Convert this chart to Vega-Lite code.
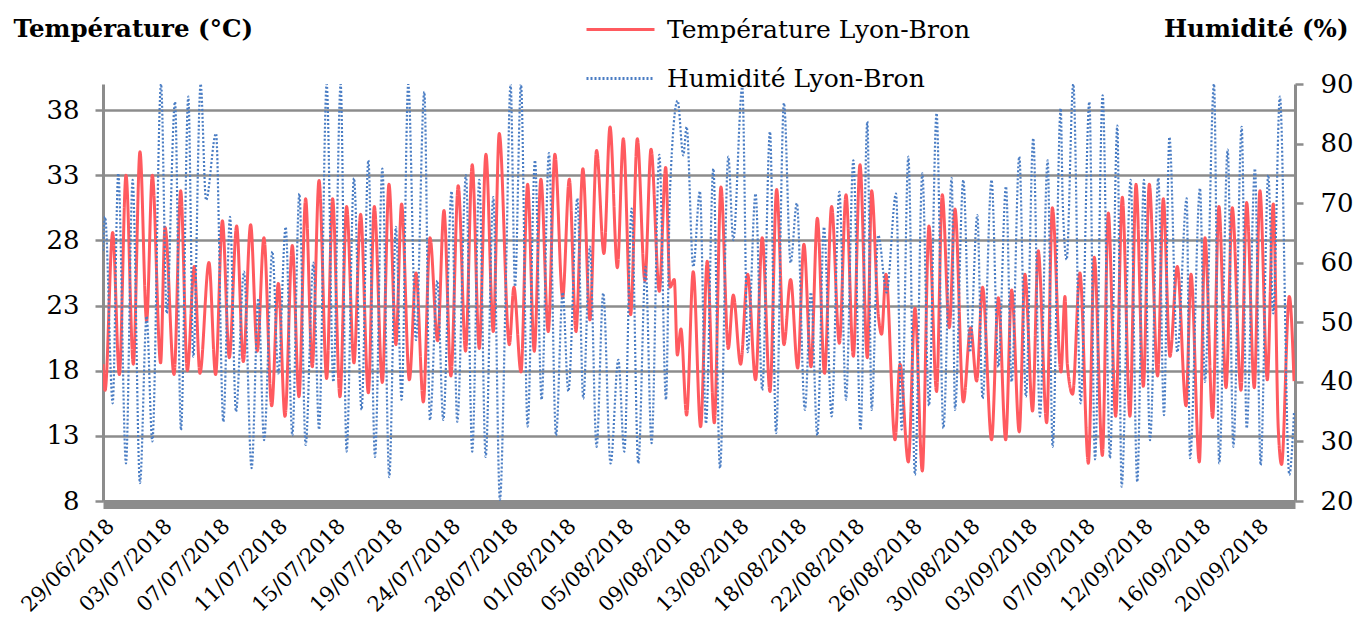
{
 "$schema": "https://vega.github.io/schema/vega-lite/v6.json",
 "width": 1192,
 "height": 417,
 "autosize": {"type": "none"},
 "padding": {"left": 103, "top": 84, "right": 61, "bottom": 120},
 "background": "white",
 "config": {"view": {"stroke": null}, "font": "DejaVu Serif",
  "legend": {"labelFont": "DejaVu Serif", "labelFontSize": 25, "labelColor": "#000", "symbolType": "stroke", "symbolSize": 4624, "symbolStrokeWidth": 3, "rowPadding": 0, "labelOffset": 11, "padding": 0, "labelLimit": 0}},
 "data": {"values": [
{"serie":"Température Lyon-Bron","jour":0,"valeur":18.5},{"serie":"Température Lyon-Bron","jour":0.15,"valeur":16.5},{"serie":"Température Lyon-Bron","jour":0.7,"valeur":28.6},{"serie":"Température Lyon-Bron","jour":1.18,"valeur":17.7},{"serie":"Température Lyon-Bron","jour":1.66,"valeur":33.0},{"serie":"Température Lyon-Bron","jour":2.19,"valeur":18.5},{"serie":"Température Lyon-Bron","jour":2.67,"valeur":34.8},{"serie":"Température Lyon-Bron","jour":3.15,"valeur":21.8},{"serie":"Température Lyon-Bron","jour":3.56,"valeur":33.0},{"serie":"Température Lyon-Bron","jour":4.16,"valeur":18.6},{"serie":"Température Lyon-Bron","jour":4.48,"valeur":29.0},{"serie":"Température Lyon-Bron","jour":5.13,"valeur":17.7},{"serie":"Température Lyon-Bron","jour":5.61,"valeur":31.8},{"serie":"Température Lyon-Bron","jour":6.09,"valeur":18.0},{"serie":"Température Lyon-Bron","jour":6.59,"valeur":26.0},{"serie":"Température Lyon-Bron","jour":7.0,"valeur":17.8},{"serie":"Température Lyon-Bron","jour":7.65,"valeur":26.3},{"serie":"Température Lyon-Bron","jour":8.13,"valeur":17.7},{"serie":"Température Lyon-Bron","jour":8.62,"valeur":29.5},{"serie":"Température Lyon-Bron","jour":9.12,"valeur":19.0},{"serie":"Température Lyon-Bron","jour":9.65,"valeur":29.1},{"serie":"Température Lyon-Bron","jour":10.13,"valeur":18.7},{"serie":"Température Lyon-Bron","jour":10.66,"valeur":29.2},{"serie":"Température Lyon-Bron","jour":11.14,"valeur":19.5},{"serie":"Température Lyon-Bron","jour":11.62,"valeur":28.2},{"serie":"Température Lyon-Bron","jour":12.18,"valeur":15.3},{"serie":"Température Lyon-Bron","jour":12.66,"valeur":24.7},{"serie":"Température Lyon-Bron","jour":13.14,"valeur":14.5},{"serie":"Température Lyon-Bron","jour":13.67,"valeur":27.6},{"serie":"Température Lyon-Bron","jour":14.15,"valeur":16.0},{"serie":"Température Lyon-Bron","jour":14.63,"valeur":31.2},{"serie":"Température Lyon-Bron","jour":15.11,"valeur":18.3},{"serie":"Température Lyon-Bron","jour":15.6,"valeur":32.6},{"serie":"Température Lyon-Bron","jour":16.15,"valeur":17.4},{"serie":"Température Lyon-Bron","jour":16.58,"valeur":31.2},{"serie":"Température Lyon-Bron","jour":17.11,"valeur":16.0},{"serie":"Température Lyon-Bron","jour":17.59,"valeur":30.6},{"serie":"Température Lyon-Bron","jour":18.12,"valeur":18.6},{"serie":"Température Lyon-Bron","jour":18.6,"valeur":30.0},{"serie":"Température Lyon-Bron","jour":19.16,"valeur":16.3},{"serie":"Température Lyon-Bron","jour":19.59,"valeur":30.6},{"serie":"Température Lyon-Bron","jour":20.17,"valeur":17.1},{"serie":"Température Lyon-Bron","jour":20.65,"valeur":32.3},{"serie":"Température Lyon-Bron","jour":21.15,"valeur":20.0},{"serie":"Température Lyon-Bron","jour":21.56,"valeur":30.8},{"serie":"Température Lyon-Bron","jour":22.12,"valeur":17.3},{"serie":"Température Lyon-Bron","jour":22.6,"valeur":25.5},{"serie":"Température Lyon-Bron","jour":23.13,"valeur":15.6},{"serie":"Température Lyon-Bron","jour":23.61,"valeur":28.2},{"serie":"Température Lyon-Bron","jour":24.16,"valeur":20.3},{"serie":"Température Lyon-Bron","jour":24.62,"valeur":30.3},{"serie":"Température Lyon-Bron","jour":25.12,"valeur":17.6},{"serie":"Température Lyon-Bron","jour":25.65,"valeur":32.2},{"serie":"Température Lyon-Bron","jour":26.18,"valeur":19.5},{"serie":"Température Lyon-Bron","jour":26.66,"valeur":33.8},{"serie":"Température Lyon-Bron","jour":27.17,"valeur":19.7},{"serie":"Température Lyon-Bron","jour":27.65,"valeur":34.6},{"serie":"Température Lyon-Bron","jour":28.18,"valeur":21.0},{"serie":"Température Lyon-Bron","jour":28.61,"valeur":36.2},{"serie":"Température Lyon-Bron","jour":29.34,"valeur":20.0},{"serie":"Température Lyon-Bron","jour":29.67,"valeur":24.4},{"serie":"Température Lyon-Bron","jour":30.18,"valeur":17.9},{"serie":"Température Lyon-Bron","jour":30.66,"valeur":32.3},{"serie":"Température Lyon-Bron","jour":31.14,"valeur":19.5},{"serie":"Température Lyon-Bron","jour":31.62,"valeur":32.7},{"serie":"Température Lyon-Bron","jour":32.15,"valeur":21.0},{"serie":"Température Lyon-Bron","jour":32.63,"valeur":34.6},{"serie":"Température Lyon-Bron","jour":33.19,"valeur":23.6},{"serie":"Température Lyon-Bron","jour":33.67,"valeur":32.7},{"serie":"Température Lyon-Bron","jour":34.15,"valeur":21.0},{"serie":"Température Lyon-Bron","jour":34.65,"valeur":33.5},{"serie":"Température Lyon-Bron","jour":35.16,"valeur":21.9},{"serie":"Température Lyon-Bron","jour":35.64,"valeur":34.9},{"serie":"Température Lyon-Bron","jour":36.17,"valeur":27.0},{"serie":"Température Lyon-Bron","jour":36.61,"valeur":36.7},{"serie":"Température Lyon-Bron","jour":37.14,"valeur":25.9},{"serie":"Température Lyon-Bron","jour":37.57,"valeur":35.8},{"serie":"Température Lyon-Bron","jour":38.1,"valeur":22.3},{"serie":"Température Lyon-Bron","jour":38.58,"valeur":35.8},{"serie":"Température Lyon-Bron","jour":39.13,"valeur":24.9},{"serie":"Température Lyon-Bron","jour":39.57,"valeur":35.0},{"serie":"Température Lyon-Bron","jour":40.17,"valeur":24.1},{"serie":"Température Lyon-Bron","jour":40.63,"valeur":33.6},{"serie":"Température Lyon-Bron","jour":40.94,"valeur":24.4},{"serie":"Température Lyon-Bron","jour":41.25,"valeur":25.0},{"serie":"Température Lyon-Bron","jour":41.47,"valeur":19.2},{"serie":"Température Lyon-Bron","jour":41.73,"valeur":21.2},{"serie":"Température Lyon-Bron","jour":42.14,"valeur":14.6},{"serie":"Température Lyon-Bron","jour":42.62,"valeur":25.6},{"serie":"Température Lyon-Bron","jour":43.15,"valeur":13.7},{"serie":"Température Lyon-Bron","jour":43.63,"valeur":26.4},{"serie":"Température Lyon-Bron","jour":44.14,"valeur":14.0},{"serie":"Température Lyon-Bron","jour":44.62,"valeur":32.1},{"serie":"Température Lyon-Bron","jour":45.15,"valeur":19.7},{"serie":"Température Lyon-Bron","jour":45.51,"valeur":23.8},{"serie":"Température Lyon-Bron","jour":46.04,"valeur":18.5},{"serie":"Température Lyon-Bron","jour":46.55,"valeur":25.4},{"serie":"Température Lyon-Bron","jour":47.12,"valeur":17.3},{"serie":"Température Lyon-Bron","jour":47.6,"valeur":28.2},{"serie":"Température Lyon-Bron","jour":48.16,"valeur":16.4},{"serie":"Température Lyon-Bron","jour":48.64,"valeur":31.9},{"serie":"Température Lyon-Bron","jour":49.17,"valeur":20.0},{"serie":"Température Lyon-Bron","jour":49.65,"valeur":25.0},{"serie":"Température Lyon-Bron","jour":50.16,"valeur":18.2},{"serie":"Température Lyon-Bron","jour":50.61,"valeur":27.7},{"serie":"Température Lyon-Bron","jour":51.12,"valeur":18.3},{"serie":"Température Lyon-Bron","jour":51.58,"valeur":29.7},{"serie":"Température Lyon-Bron","jour":52.1,"valeur":17.8},{"serie":"Température Lyon-Bron","jour":52.61,"valeur":30.6},{"serie":"Température Lyon-Bron","jour":53.17,"valeur":20.1},{"serie":"Température Lyon-Bron","jour":53.65,"valeur":31.5},{"serie":"Température Lyon-Bron","jour":54.18,"valeur":19.1},{"serie":"Température Lyon-Bron","jour":54.66,"valeur":33.8},{"serie":"Température Lyon-Bron","jour":55.19,"valeur":19.0},{"serie":"Température Lyon-Bron","jour":55.5,"valeur":31.8},{"serie":"Température Lyon-Bron","jour":55.98,"valeur":22.3},{"serie":"Température Lyon-Bron","jour":56.22,"valeur":20.8},{"serie":"Température Lyon-Bron","jour":56.53,"valeur":25.4},{"serie":"Température Lyon-Bron","jour":57.19,"valeur":12.7},{"serie":"Température Lyon-Bron","jour":57.55,"valeur":18.5},{"serie":"Température Lyon-Bron","jour":58.15,"valeur":11.0},{"serie":"Température Lyon-Bron","jour":58.63,"valeur":22.8},{"serie":"Température Lyon-Bron","jour":59.16,"valeur":10.3},{"serie":"Température Lyon-Bron","jour":59.64,"valeur":29.1},{"serie":"Température Lyon-Bron","jour":60.19,"valeur":16.4},{"serie":"Température Lyon-Bron","jour":60.6,"valeur":31.5},{"serie":"Température Lyon-Bron","jour":61.11,"valeur":21.3},{"serie":"Température Lyon-Bron","jour":61.52,"valeur":30.4},{"serie":"Température Lyon-Bron","jour":62.12,"valeur":15.6},{"serie":"Température Lyon-Bron","jour":62.65,"valeur":21.3},{"serie":"Température Lyon-Bron","jour":63.08,"valeur":17.2},{"serie":"Température Lyon-Bron","jour":63.51,"valeur":24.4},{"serie":"Température Lyon-Bron","jour":64.16,"valeur":12.7},{"serie":"Température Lyon-Bron","jour":64.65,"valeur":23.6},{"serie":"Température Lyon-Bron","jour":65.18,"valeur":12.7},{"serie":"Température Lyon-Bron","jour":65.61,"valeur":24.2},{"serie":"Température Lyon-Bron","jour":66.16,"valeur":13.3},{"serie":"Température Lyon-Bron","jour":66.57,"valeur":25.4},{"serie":"Température Lyon-Bron","jour":67.12,"valeur":14.9},{"serie":"Température Lyon-Bron","jour":67.53,"valeur":27.2},{"serie":"Température Lyon-Bron","jour":68.14,"valeur":14.0},{"serie":"Température Lyon-Bron","jour":68.55,"valeur":30.5},{"serie":"Température Lyon-Bron","jour":69.17,"valeur":17.9},{"serie":"Température Lyon-Bron","jour":69.46,"valeur":23.7},{"serie":"Température Lyon-Bron","jour":69.63,"valeur":18.5},{"serie":"Température Lyon-Bron","jour":70.01,"valeur":16.2},{"serie":"Température Lyon-Bron","jour":70.54,"valeur":25.5},{"serie":"Température Lyon-Bron","jour":71.15,"valeur":10.9},{"serie":"Température Lyon-Bron","jour":71.58,"valeur":26.7},{"serie":"Température Lyon-Bron","jour":72.16,"valeur":11.5},{"serie":"Température Lyon-Bron","jour":72.59,"valeur":30.1},{"serie":"Température Lyon-Bron","jour":73.12,"valeur":14.5},{"serie":"Température Lyon-Bron","jour":73.6,"valeur":31.3},{"serie":"Température Lyon-Bron","jour":74.15,"valeur":14.5},{"serie":"Température Lyon-Bron","jour":74.59,"valeur":32.3},{"serie":"Température Lyon-Bron","jour":75.12,"valeur":16.8},{"serie":"Température Lyon-Bron","jour":75.55,"valeur":32.3},{"serie":"Température Lyon-Bron","jour":76.15,"valeur":17.6},{"serie":"Température Lyon-Bron","jour":76.56,"valeur":31.2},{"serie":"Température Lyon-Bron","jour":77.04,"valeur":19.1},{"serie":"Température Lyon-Bron","jour":77.57,"valeur":26.0},{"serie":"Température Lyon-Bron","jour":78.2,"valeur":15.3},{"serie":"Température Lyon-Bron","jour":78.56,"valeur":25.4},{"serie":"Température Lyon-Bron","jour":79.16,"valeur":11.0},{"serie":"Température Lyon-Bron","jour":79.57,"valeur":28.2},{"serie":"Température Lyon-Bron","jour":80.12,"valeur":14.4},{"serie":"Température Lyon-Bron","jour":80.58,"valeur":30.6},{"serie":"Température Lyon-Bron","jour":81.09,"valeur":16.7},{"serie":"Température Lyon-Bron","jour":81.54,"valeur":30.5},{"serie":"Température Lyon-Bron","jour":82.17,"valeur":16.5},{"serie":"Température Lyon-Bron","jour":82.58,"valeur":30.9},{"serie":"Température Lyon-Bron","jour":83.13,"valeur":16.7},{"serie":"Température Lyon-Bron","jour":83.54,"valeur":31.8},{"serie":"Température Lyon-Bron","jour":84.07,"valeur":17.3},{"serie":"Température Lyon-Bron","jour":84.5,"valeur":30.8},{"serie":"Température Lyon-Bron","jour":84.86,"valeur":13.6},{"serie":"Température Lyon-Bron","jour":85.1,"valeur":10.8},{"serie":"Température Lyon-Bron","jour":85.66,"valeur":23.7},{"serie":"Température Lyon-Bron","jour":86.0,"valeur":17.2},
{"serie":"Humidité Lyon-Bron","jour":0,"valeur":62},{"serie":"Humidité Lyon-Bron","jour":0.15,"valeur":67.7},{"serie":"Humidité Lyon-Bron","jour":0.7,"valeur":36.4},{"serie":"Humidité Lyon-Bron","jour":1.1,"valeur":75},{"serie":"Humidité Lyon-Bron","jour":1.66,"valeur":26.3},{"serie":"Humidité Lyon-Bron","jour":2.14,"valeur":73.9},{"serie":"Humidité Lyon-Bron","jour":2.67,"valeur":23},{"serie":"Humidité Lyon-Bron","jour":3.15,"valeur":51},{"serie":"Humidité Lyon-Bron","jour":3.56,"valeur":30},{"serie":"Humidité Lyon-Bron","jour":4.19,"valeur":90},{"serie":"Humidité Lyon-Bron","jour":4.6,"valeur":51.5},{"serie":"Humidité Lyon-Bron","jour":5.2,"valeur":87},{"serie":"Humidité Lyon-Bron","jour":5.63,"valeur":31.9},{"serie":"Humidité Lyon-Bron","jour":6.16,"valeur":87.9},{"serie":"Humidité Lyon-Bron","jour":6.52,"valeur":44.2},{"serie":"Humidité Lyon-Bron","jour":7.05,"valeur":90},{"serie":"Humidité Lyon-Bron","jour":7.44,"valeur":70.5},{"serie":"Humidité Lyon-Bron","jour":8.16,"valeur":81.7},{"serie":"Humidité Lyon-Bron","jour":8.69,"valeur":33.3},{"serie":"Humidité Lyon-Bron","jour":9.17,"valeur":67.7},{"serie":"Humidité Lyon-Bron","jour":9.6,"valeur":35},{"serie":"Humidité Lyon-Bron","jour":10.18,"valeur":58.5},{"serie":"Humidité Lyon-Bron","jour":10.73,"valeur":25.5},{"serie":"Humidité Lyon-Bron","jour":11.22,"valeur":54},{"serie":"Humidité Lyon-Bron","jour":11.63,"valeur":30.2},{"serie":"Humidité Lyon-Bron","jour":12.23,"valeur":61.9},{"serie":"Humidité Lyon-Bron","jour":12.66,"valeur":41.4},{"serie":"Humidité Lyon-Bron","jour":13.19,"valeur":66},{"serie":"Humidité Lyon-Bron","jour":13.67,"valeur":31},{"serie":"Humidité Lyon-Bron","jour":14.18,"valeur":71.6},{"serie":"Humidité Lyon-Bron","jour":14.63,"valeur":29.4},{"serie":"Humidité Lyon-Bron","jour":15.19,"valeur":60},{"serie":"Humidité Lyon-Bron","jour":15.6,"valeur":32},{"serie":"Humidité Lyon-Bron","jour":16.15,"valeur":90},{"serie":"Humidité Lyon-Bron","jour":16.63,"valeur":40},{"serie":"Humidité Lyon-Bron","jour":17.16,"valeur":90},{"serie":"Humidité Lyon-Bron","jour":17.59,"valeur":28.3},{"serie":"Humidité Lyon-Bron","jour":18.12,"valeur":74.2},{"serie":"Humidité Lyon-Bron","jour":18.67,"valeur":35.3},{"serie":"Humidité Lyon-Bron","jour":19.16,"valeur":77.2},{"serie":"Humidité Lyon-Bron","jour":19.64,"valeur":27.4},{"serie":"Humidité Lyon-Bron","jour":20.17,"valeur":75.8},{"serie":"Humidité Lyon-Bron","jour":20.67,"valeur":24},{"serie":"Humidité Lyon-Bron","jour":21.15,"valeur":66},{"serie":"Humidité Lyon-Bron","jour":21.56,"valeur":37},{"serie":"Humidité Lyon-Bron","jour":22.04,"valeur":90},{"serie":"Humidité Lyon-Bron","jour":22.6,"valeur":47},{"serie":"Humidité Lyon-Bron","jour":23.2,"valeur":88.7},{"serie":"Humidité Lyon-Bron","jour":23.61,"valeur":33.6},{"serie":"Humidité Lyon-Bron","jour":24.14,"valeur":57},{"serie":"Humidité Lyon-Bron","jour":24.57,"valeur":33.6},{"serie":"Humidité Lyon-Bron","jour":25.17,"valeur":72},{"serie":"Humidité Lyon-Bron","jour":25.58,"valeur":33.3},{"serie":"Humidité Lyon-Bron","jour":26.21,"valeur":74.7},{"serie":"Humidité Lyon-Bron","jour":26.66,"valeur":28.3},{"serie":"Humidité Lyon-Bron","jour":27.17,"valeur":73.9},{"serie":"Humidité Lyon-Bron","jour":27.63,"valeur":27.4},{"serie":"Humidité Lyon-Bron","jour":28.18,"valeur":71},{"serie":"Humidité Lyon-Bron","jour":28.66,"valeur":20.2},{"serie":"Humidité Lyon-Bron","jour":29.1,"valeur":58},{"serie":"Humidité Lyon-Bron","jour":29.43,"valeur":90},{"serie":"Humidité Lyon-Bron","jour":29.75,"valeur":56},{"serie":"Humidité Lyon-Bron","jour":30.18,"valeur":90},{"serie":"Humidité Lyon-Bron","jour":30.66,"valeur":32.5},{"serie":"Humidité Lyon-Bron","jour":31.19,"valeur":77.2},{"serie":"Humidité Lyon-Bron","jour":31.67,"valeur":37},{"serie":"Humidité Lyon-Bron","jour":32.2,"valeur":78.4},{"serie":"Humidité Lyon-Bron","jour":32.71,"valeur":31},{"serie":"Humidité Lyon-Bron","jour":33.19,"valeur":55},{"serie":"Humidité Lyon-Bron","jour":33.6,"valeur":38.4},{"serie":"Humidité Lyon-Bron","jour":34.25,"valeur":70.8},{"serie":"Humidité Lyon-Bron","jour":34.68,"valeur":37.2},{"serie":"Humidité Lyon-Bron","jour":35.16,"valeur":62.7},{"serie":"Humidité Lyon-Bron","jour":35.64,"valeur":29.1},{"serie":"Humidité Lyon-Bron","jour":36.12,"valeur":54.9},{"serie":"Humidité Lyon-Bron","jour":36.65,"valeur":26.3},{"serie":"Humidité Lyon-Bron","jour":37.21,"valeur":43.7},{"serie":"Humidité Lyon-Bron","jour":37.64,"valeur":28.3},{"serie":"Humidité Lyon-Bron","jour":38.17,"valeur":69.1},{"serie":"Humidité Lyon-Bron","jour":38.65,"valeur":26.3},{"serie":"Humidité Lyon-Bron","jour":39.18,"valeur":59.3},{"serie":"Humidité Lyon-Bron","jour":39.61,"valeur":29.7},{"serie":"Humidité Lyon-Bron","jour":40.17,"valeur":78.1},{"serie":"Humidité Lyon-Bron","jour":40.65,"valeur":37},{"serie":"Humidité Lyon-Bron","jour":40.94,"valeur":72},{"serie":"Humidité Lyon-Bron","jour":41.49,"valeur":87.2},{"serie":"Humidité Lyon-Bron","jour":41.9,"valeur":78},{"serie":"Humidité Lyon-Bron","jour":42.14,"valeur":82.8},{"serie":"Humidité Lyon-Bron","jour":42.62,"valeur":59.3},{"serie":"Humidité Lyon-Bron","jour":43.1,"valeur":72},{"serie":"Humidité Lyon-Bron","jour":43.54,"valeur":33},{"serie":"Humidité Lyon-Bron","jour":44.07,"valeur":75.8},{"serie":"Humidité Lyon-Bron","jour":44.55,"valeur":25.5},{"serie":"Humidité Lyon-Bron","jour":45.15,"valeur":77.8},{"serie":"Humidité Lyon-Bron","jour":45.51,"valeur":63.8},{"serie":"Humidité Lyon-Bron","jour":46.16,"valeur":89.5},{"serie":"Humidité Lyon-Bron","jour":46.55,"valeur":45},{"serie":"Humidité Lyon-Bron","jour":47.12,"valeur":71.6},{"serie":"Humidité Lyon-Bron","jour":47.6,"valeur":38.6},{"serie":"Humidité Lyon-Bron","jour":48.16,"valeur":82},{"serie":"Humidité Lyon-Bron","jour":48.6,"valeur":31.4},{"serie":"Humidité Lyon-Bron","jour":49.17,"valeur":86.8},{"serie":"Humidité Lyon-Bron","jour":49.65,"valeur":60},{"serie":"Humidité Lyon-Bron","jour":50.1,"valeur":70},{"serie":"Humidité Lyon-Bron","jour":50.68,"valeur":35.3},{"serie":"Humidité Lyon-Bron","jour":51.12,"valeur":55},{"serie":"Humidité Lyon-Bron","jour":51.58,"valeur":31},{"serie":"Humidité Lyon-Bron","jour":52.06,"valeur":66},{"serie":"Humidité Lyon-Bron","jour":52.61,"valeur":34.2},{"serie":"Humidité Lyon-Bron","jour":53.17,"valeur":71.9},{"serie":"Humidité Lyon-Bron","jour":53.65,"valeur":37},{"serie":"Humidité Lyon-Bron","jour":54.18,"valeur":77.2},{"serie":"Humidité Lyon-Bron","jour":54.7,"valeur":31.9},{"serie":"Humidité Lyon-Bron","jour":55.19,"valeur":83.7},{"serie":"Humidité Lyon-Bron","jour":55.5,"valeur":35.3},{"serie":"Humidité Lyon-Bron","jour":55.98,"valeur":64.6},{"serie":"Humidité Lyon-Bron","jour":56.58,"valeur":55},{"serie":"Humidité Lyon-Bron","jour":57.26,"valeur":71.6},{"serie":"Humidité Lyon-Bron","jour":57.67,"valeur":32},{"serie":"Humidité Lyon-Bron","jour":58.15,"valeur":77.8},{"serie":"Humidité Lyon-Bron","jour":58.63,"valeur":24.4},{"serie":"Humidité Lyon-Bron","jour":59.16,"valeur":75},{"serie":"Humidité Lyon-Bron","jour":59.64,"valeur":36},{"serie":"Humidité Lyon-Bron","jour":60.19,"valeur":85.1},{"serie":"Humidité Lyon-Bron","jour":60.68,"valeur":32.2},{"serie":"Humidité Lyon-Bron","jour":61.28,"valeur":74.2},{"serie":"Humidité Lyon-Bron","jour":61.52,"valeur":35.3},{"serie":"Humidité Lyon-Bron","jour":62.12,"valeur":73.9},{"serie":"Humidité Lyon-Bron","jour":62.6,"valeur":45},{"serie":"Humidité Lyon-Bron","jour":63.13,"valeur":68},{"serie":"Humidité Lyon-Bron","jour":63.51,"valeur":37.2},{"serie":"Humidité Lyon-Bron","jour":64.16,"valeur":73.9},{"serie":"Humidité Lyon-Bron","jour":64.65,"valeur":42.5},{"serie":"Humidité Lyon-Bron","jour":65.2,"valeur":72.8},{"serie":"Humidité Lyon-Bron","jour":65.61,"valeur":40},{"serie":"Humidité Lyon-Bron","jour":66.16,"valeur":77.8},{"serie":"Humidité Lyon-Bron","jour":66.64,"valeur":37.5},{"serie":"Humidité Lyon-Bron","jour":67.17,"valeur":80.9},{"serie":"Humidité Lyon-Bron","jour":67.65,"valeur":34.2},{"serie":"Humidité Lyon-Bron","jour":68.21,"valeur":77.2},{"serie":"Humidité Lyon-Bron","jour":68.57,"valeur":29.1},{"serie":"Humidité Lyon-Bron","jour":69.15,"valeur":85.9},{"serie":"Humidité Lyon-Bron","jour":69.3,"valeur":70},{"serie":"Humidité Lyon-Bron","jour":69.58,"valeur":60.5},{"serie":"Humidité Lyon-Bron","jour":70.06,"valeur":90},{"serie":"Humidité Lyon-Bron","jour":70.59,"valeur":36.4},{"serie":"Humidité Lyon-Bron","jour":71.22,"valeur":87},{"serie":"Humidité Lyon-Bron","jour":71.63,"valeur":27},{"serie":"Humidité Lyon-Bron","jour":72.18,"valeur":88.1},{"serie":"Humidité Lyon-Bron","jour":72.71,"valeur":27.2},{"serie":"Humidité Lyon-Bron","jour":73.24,"valeur":83},{"serie":"Humidité Lyon-Bron","jour":73.55,"valeur":22.4},{"serie":"Humidité Lyon-Bron","jour":74.2,"valeur":73.9},{"serie":"Humidité Lyon-Bron","jour":74.68,"valeur":23.2},{"serie":"Humidité Lyon-Bron","jour":75.16,"valeur":73.9},{"serie":"Humidité Lyon-Bron","jour":75.6,"valeur":30.2},{"serie":"Humidité Lyon-Bron","jour":76.2,"valeur":74.2},{"serie":"Humidité Lyon-Bron","jour":76.61,"valeur":34.4},{"serie":"Humidité Lyon-Bron","jour":77.0,"valeur":81.1},{"serie":"Humidité Lyon-Bron","jour":77.57,"valeur":45},{"serie":"Humidité Lyon-Bron","jour":78.25,"valeur":70.8},{"serie":"Humidité Lyon-Bron","jour":78.49,"valeur":27.2},{"serie":"Humidité Lyon-Bron","jour":79.21,"valeur":72.5},{"serie":"Humidité Lyon-Bron","jour":79.57,"valeur":40},{"serie":"Humidité Lyon-Bron","jour":80.22,"valeur":90},{"serie":"Humidité Lyon-Bron","jour":80.6,"valeur":26.3},{"serie":"Humidité Lyon-Bron","jour":81.21,"valeur":79},{"serie":"Humidité Lyon-Bron","jour":81.62,"valeur":29.1},{"serie":"Humidité Lyon-Bron","jour":82.22,"valeur":82.8},{"serie":"Humidité Lyon-Bron","jour":82.58,"valeur":32.2},{"serie":"Humidité Lyon-Bron","jour":83.18,"valeur":75.8},{"serie":"Humidité Lyon-Bron","jour":83.59,"valeur":26},{"serie":"Humidité Lyon-Bron","jour":84.14,"valeur":74.7},{"serie":"Humidité Lyon-Bron","jour":84.5,"valeur":51.5},{"serie":"Humidité Lyon-Bron","jour":84.98,"valeur":87.9},{"serie":"Humidité Lyon-Bron","jour":85.66,"valeur":24.4},{"serie":"Humidité Lyon-Bron","jour":86.0,"valeur":35}
 ]},
 "encoding": {
  "x": {"field": "jour", "type": "quantitative",
   "scale": {"domain": [0, 86.07], "nice": false, "zero": false},
   "axis": {"title": null, "grid": false, "ticks": false,
    "values": [0, 4.1666667, 8.3333333, 12.5, 16.6666667, 20.8333333, 25, 29.1666667, 33.3333333, 37.5, 41.6666667, 45.8333333, 50, 54.1666667, 58.3333333, 62.5, 66.6666667, 70.8333333, 75, 79.1666667, 83.3333333],
    "labelExpr": "timeFormat(time(datetime(2018, 5, 29)) + datum.value * 86400000, '%d/%m/%Y')",
    "labelAngle": -45, "labelAlign": "right", "labelBaseline": "top", "labelLimit": 0,
    "labelFont": "DejaVu Serif", "labelFontSize": 21, "labelColor": "#000",
    "labelPadding": 11, "labelDx": -3, "labelOverlap": false, "labelFlush": false, "labelBound": false,
    "domainColor": "#8c8c8c", "domainWidth": 9, "offset": 3}},
  "color": {"field": "serie", "type": "nominal",
   "scale": {"domain": ["Température Lyon-Bron", "Humidité Lyon-Bron"], "range": ["#ff5a5f", "#4a7dc4"]},
   "legend": {"title": null, "orient": "none", "legendX": 482, "legendY": -90, "direction": "vertical"}},
  "strokeDash": {"field": "serie", "type": "nominal",
   "scale": {"domain": ["Température Lyon-Bron", "Humidité Lyon-Bron"], "range": [[1, 0], [2, 2]]},
   "legend": {"title": null, "orient": "none", "legendX": 482, "legendY": -90, "direction": "vertical"}}
 },
 "layer": [
  {"transform": [{"filter": {"field": "serie", "equal": "Température Lyon-Bron"}}],
   "mark": {"type": "line", "strokeWidth": 3, "interpolate": "monotone", "clip": true},
   "encoding": {
    "y": {"field": "valeur", "type": "quantitative",
     "scale": {"domain": [8, 40], "nice": false, "zero": false},
     "axis": {"values": [8, 13, 18, 23, 28, 33, 38], "title": "Température (°C)",
      "titleAngle": 0, "titleX": -90, "titleY": -48, "titleAlign": "left", "titleBaseline": "alphabetic",
      "titleFont": "DejaVu Serif", "titleFontSize": 24.5, "titleFontWeight": "bold", "titleColor": "#000",
      "labelFont": "DejaVu Serif", "labelFontSize": 26, "labelColor": "#000", "labelPadding": 16,
      "tickSize": 8, "tickColor": "#8c8c8c", "tickWidth": 2.5,
      "domainColor": "#8c8c8c", "domainWidth": 3,
      "grid": true, "gridColor": "#8c8c8c", "gridWidth": 2.5}}
   }},
  {"transform": [{"filter": {"field": "serie", "equal": "Humidité Lyon-Bron"}}],
   "mark": {"type": "line", "strokeWidth": 2.2, "interpolate": "monotone", "clip": true},
   "encoding": {
    "y": {"field": "valeur", "type": "quantitative",
     "scale": {"domain": [20, 90], "nice": false, "zero": false},
     "axis": {"orient": "right", "values": [20, 30, 40, 50, 60, 70, 80, 90], "title": "Humidité (%)",
      "titleAngle": 0, "titleX": 53, "titleY": -48, "titleAlign": "right", "titleBaseline": "alphabetic",
      "titleFont": "DejaVu Serif", "titleFontSize": 24.5, "titleFontWeight": "bold", "titleColor": "#000",
      "labelFont": "DejaVu Serif", "labelFontSize": 26, "labelColor": "#000", "labelPadding": 17,
      "tickSize": 8, "tickColor": "#8c8c8c", "tickWidth": 2.5,
      "domainColor": "#8c8c8c", "domainWidth": 3, "grid": false}}
   }}
 ],
 "resolve": {"scale": {"y": "independent"}}
}
